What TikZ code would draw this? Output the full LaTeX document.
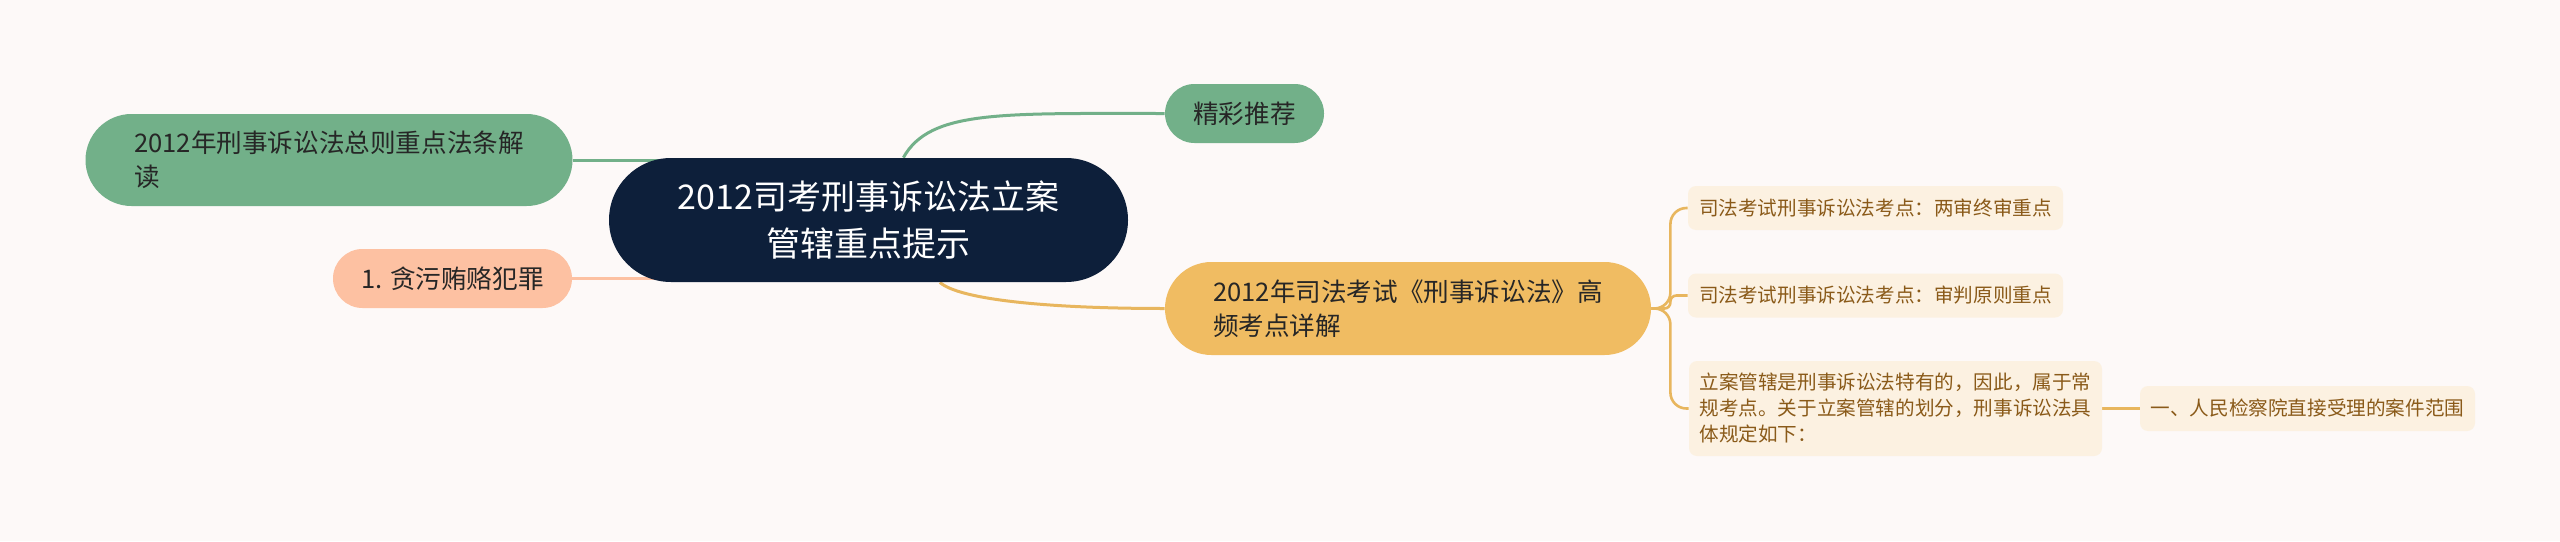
\documentclass[tikz,border=0pt]{standalone}
\usepackage{fontspec}
\setmainfont{Noto Sans CJK SC}
\usetikzlibrary{positioning,backgrounds}
\definecolor{bgcol}{HTML}{FDF9F8}
\definecolor{navy}{HTML}{0D1F3A}
\definecolor{grn}{HTML}{72B089}
\definecolor{peach}{HTML}{FDC1A2}
\definecolor{gold}{HTML}{F0BC62}
\definecolor{goldline}{HTML}{E8B65E}
\definecolor{leafcol}{HTML}{FCF1E1}
\definecolor{leaftext}{HTML}{8A5A19}
\definecolor{ink}{HTML}{262626}
\tikzset{
  topic/.style={rounded corners=31pt, fill=navy, text=white, align=center,
    minimum width=259.5pt, minimum height=62pt, inner sep=0pt,
    font=\fontsize{17}{23.5}\selectfont},
  pill/.style={align=left, inner sep=0pt, text=ink,
    font=\fontsize{12.8}{17}\selectfont},
  leaf/.style={rounded corners=4pt, fill=leafcol, text=leaftext, align=left,
    inner sep=0pt, font=\fontsize{9.8}{13}\selectfont},
  link/.style={line width=1.5pt},
  twig/.style={line width=1.3pt, goldline, rounded corners=8pt},
}
\begin{document}
\begin{tikzpicture}[x=0.5pt,y=-0.5pt]
  % central topic
  \node[topic] (root) at (868.5,220) {2012司考刑事诉讼法立案\\管辖重点提示};
  % left side
  \node[pill, fill=grn, rounded corners=23pt, minimum width=243.5pt, minimum height=46pt]
    (zongze) at (329,160) {2012年刑事诉讼法总则重点法条解\\读};
  \node[pill, fill=peach, rounded corners=14.75pt, minimum width=119.5pt, minimum height=29.5pt]
    (tanwu) at (452.5,278.5) {1. 贪污贿赂犯罪};
  % right side
  \node[pill, fill=grn, rounded corners=14.75pt, minimum width=79.5pt, minimum height=29.5pt]
    (tuijian) at (1244.5,113.5) {精彩推荐};
  \node[pill, fill=gold, rounded corners=23.25pt, minimum width=243pt, minimum height=46.5pt]
    (gaopin) at (1408,308.5) {2012年司法考试《刑事诉讼法》高\\频考点详解};
  % leaves
  \node[leaf, minimum width=187.5pt, minimum height=22pt] (liangshen) at (1875.5,208)
    {司法考试刑事诉讼法考点：两审终审重点};
  \node[leaf, minimum width=187.5pt, minimum height=22pt] (yuanze) at (1875.5,295.5)
    {司法考试刑事诉讼法考点：审判原则重点};
  \node[leaf, minimum width=206.5pt, minimum height=47.5pt] (guanxia) at (1895.5,408.5)
    {立案管辖是刑事诉讼法特有的，因此，属于常\\规考点。关于立案管辖的划分，刑事诉讼法具\\体规定如下：};
  \node[leaf, minimum width=167.5pt, minimum height=22.5pt] (jianchayuan) at (2307.5,408.5)
    {一、人民检察院直接受理的案件范围};
  \coordinate[right=9.5pt of gaopin.east] (fork);
  % connectors
  \begin{scope}[on background layer]
    \fill[bgcol] (0,0) rectangle (2560,541);
    \draw[link, grn] (root) .. controls (930,110) and (1000,113.5) .. (tuijian.west);
    \draw[link, grn] (zongze.east) -- (zongze.east -| root.center);
    \draw[link, peach] (tanwu.east) -- (tanwu.east -| root.center);
    \draw[link, goldline] (root) .. controls (960,300) and (1050,308.5) .. (gaopin.west);
    \draw[twig] (gaopin.east) -- (fork) |- (liangshen.west);
    \draw[twig, rounded corners=3pt] (gaopin.east) -- (fork) |- (yuanze.west);
    \draw[twig] (gaopin.east) -- (fork) |- (guanxia.west);
    \draw[twig] (guanxia.east) -- (jianchayuan.west);
  \end{scope}
\end{tikzpicture}
\end{document}
